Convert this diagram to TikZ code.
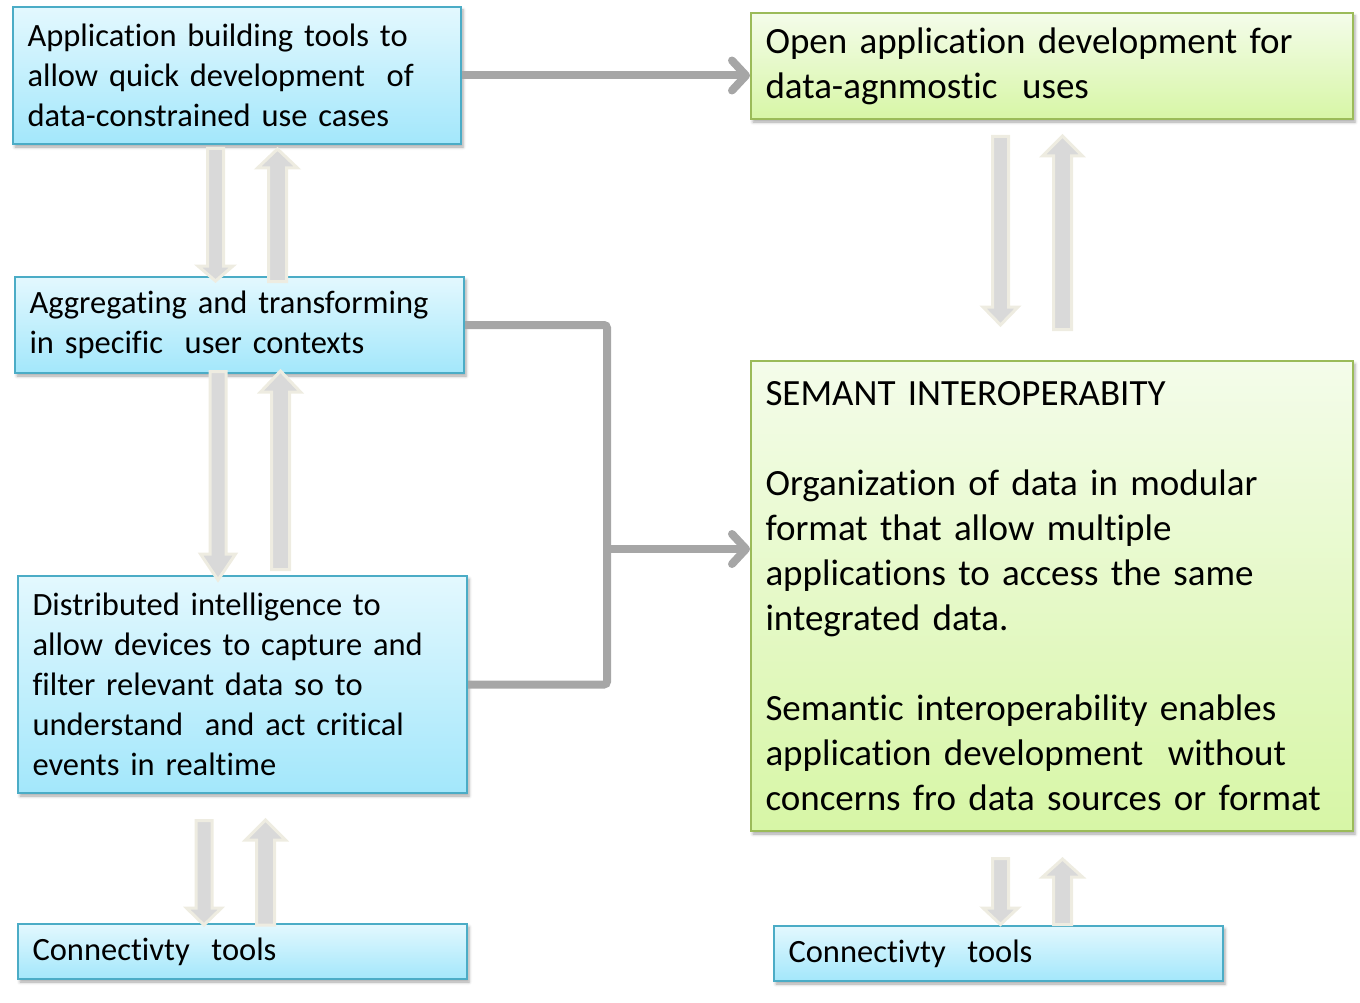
\documentclass[tikz,border=0pt]{standalone}
\usepackage{fontspec}
\setmainfont{Carlito}[Ligatures=NoCommon]
\usetikzlibrary{arrows.meta,shadows.blur}
\definecolor{bluetop}{HTML}{E3F8FE}
\definecolor{bluebot}{HTML}{A3E7FB}
\definecolor{blueedge}{HTML}{4BACC6}
\definecolor{greentop}{HTML}{F4FCEA}
\definecolor{greenbot}{HTML}{D7F6A6}
\definecolor{greenedge}{HTML}{9BBB59}
\definecolor{connc}{HTML}{A6A6A6}
\definecolor{blkfill}{HTML}{D9D9D9}
\definecolor{blkedge}{HTML}{EEECE1}
\newcommand\myBlueFont{\fontsize{32.5}{40}\selectfont\spaceskip=0.19em plus 0.05em minus 0.03em\relax}
\newcommand\myGreenFont{\fontsize{37}{45}\selectfont\spaceskip=0.15em plus 0.05em minus 0.03em\relax}
\newcommand\dnblk[4]{%
  \draw[blk] (#1-8,#2) -- (#1+8,#2) -- (#1+8,#3) -- (#1+17.5,#3) -- (#1,#4)
    -- (#1-17.5,#3) -- (#1-8,#3) -- cycle;}
\newcommand\upblk[4]{%
  \draw[blk] (#1,#2) -- (#1+20,#3) -- (#1+9,#3) -- (#1+9,#4) -- (#1-9,#4)
    -- (#1-9,#3) -- (#1-20,#3) -- cycle;}
\begin{document}
\begin{tikzpicture}[x=1pt,y=-1pt,
  boxbase/.style={anchor=north west, inner xsep=14.5pt, inner ysep=2pt, align=left,
    line width=2pt, blur shadow={shadow xshift=2pt, shadow yshift=-3pt,
    shadow blur radius=3pt, shadow opacity=35}},
  bluebox/.style={boxbase, draw=blueedge, top color=bluetop, bottom color=bluebot,
    font=\myBlueFont},
  greenbox/.style={boxbase, draw=greenedge, top color=greentop, bottom color=greenbot,
    font=\myGreenFont},
  conn/.style={draw=connc, line width=8pt},
  connarrow/.style={conn, -{Straight Barb[length=14pt, width=30pt, round]}},
  blk/.style={fill=blkfill, draw=blkedge, line width=3pt, line join=miter}]
\useasboundingbox (0,0) rectangle (1360,1003);
% blue boxes
\node[bluebox, text width=419pt, minimum height=137pt] (b1) at (12,6)
  {Application building tools to\\allow quick development\ \ of\\data-constrained use cases};
\node[bluebox, text width=420pt, minimum height=96pt] (b2) at (14,276)
  {Aggregating and transforming\\in specific\ \ user contexts};
\node[bluebox, text width=420pt, minimum height=217pt] (b3) at (17,575)
  {Distributed intelligence to\\allow devices to capture and\\filter relevant data so to\\understand\ \ and act critical\\events in realtime};
\node[bluebox, text width=420pt, minimum height=55pt] (b4) at (17,923)
  {Connectivty\ \ tools};
\node[bluebox, text width=420pt, minimum height=55pt] (b5) at (773,925)
  {Connectivty\ \ tools};
% green boxes
\node[greenbox, text width=573pt, minimum height=106pt] (g1) at (750,12)
  {Open application development for\\data-agnmostic\ \ uses};
\node[greenbox, text width=573pt, minimum height=470pt] (g2) at (750,360)
  {SEMANT INTEROPERABITY\\[45pt]Organization of data in modular\\format that allow multiple\\applications to access the same\\integrated data.\\[45pt]Semantic interoperability enables\\application development\ \ without\\concerns fro data sources or format};
% connectors
\draw[connarrow] (b1.east) -- (b1.east -| g1.west);
\coordinate (j) at (607,549);
\draw[conn, rounded corners=3pt] (b2.east) -| (j);
\draw[conn, rounded corners=3pt] (b3.east) -| (j);
\draw[connarrow] ([xshift=-4pt]j) -- (j -| g2.west);
% block arrows
\dnblk{215.5}{148.5}{266}{281}
\upblk{277.5}{149}{168}{281.5}
\dnblk{218}{371.5}{554}{580}
\upblk{280.5}{371}{392}{569.5}
\dnblk{204}{820.5}{908}{925}
\upblk{265.5}{820}{840}{925}
\dnblk{1000.5}{136.5}{307}{325}
\upblk{1062.5}{136}{156}{329.5}
\dnblk{1000.5}{858.5}{908}{924.5}
\upblk{1062.5}{859}{877}{924.5}
\end{tikzpicture}
\end{document}
